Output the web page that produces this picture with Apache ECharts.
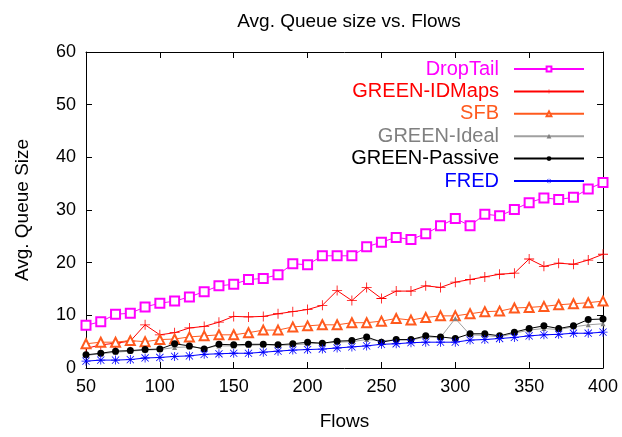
<!DOCTYPE html>
<html>
<head>
<meta charset="utf-8">
<script src="https://cdn.jsdelivr.net/npm/echarts@6/dist/echarts.min.js"></script>
<style>
  html, body { margin: 0; padding: 0; background: #fff; }
  #chart { width: 622px; height: 437px; }
</style>
</head>
<body>
<div id="chart"></div>
<script>
// Number of flows on the x axis
const flows = [50, 60, 70, 80, 90, 100, 110, 120, 130, 140, 150, 160, 170, 180, 190, 200,
  210, 220, 230, 240, 250, 260, 270, 280, 290, 300, 310, 320, 330, 340, 350, 360, 370, 380, 390, 400];

// Average queue size per scheme
const dropTail = [8.1, 8.8, 10.2, 10.4, 11.6, 12.3, 12.7, 13.5, 14.5, 15.6, 15.9, 16.8, 17.0, 17.7, 19.8, 19.6,
  21.3, 21.3, 21.3, 23.0, 23.9, 24.8, 24.4, 25.5, 27.0, 28.4, 27.0, 29.2, 28.9, 30.1, 31.4, 32.3, 32.0, 32.4, 34.0, 35.2];
const greenIDMaps = [3.7, 4.4, 4.7, 5.1, 8.2, 6.3, 6.7, 7.6, 7.9, 8.7, 9.8, 9.7, 9.8, 10.3, 10.7, 11.1,
  11.9, 14.7, 12.8, 15.3, 13.2, 14.6, 14.6, 15.6, 15.3, 16.3, 16.8, 17.3, 17.8, 18.0, 20.7, 19.3, 19.9, 19.7, 20.5, 21.6];
const sfb = [4.6, 4.9, 4.9, 5.2, 5.0, 5.4, 5.5, 5.9, 6.1, 6.3, 6.3, 6.7, 7.2, 7.2, 7.8, 8.0,
  8.2, 8.2, 8.6, 8.6, 8.9, 9.4, 9.1, 9.6, 9.9, 9.9, 10.3, 10.7, 10.8, 11.4, 11.5, 11.7, 12.0, 12.2, 12.4, 12.7];
const greenIdeal = [2.4, 2.7, 3.0, 3.2, 3.4, 3.5, 3.9, 4.0, 3.8, 4.2, 4.2, 4.3, 4.4, 4.3, 4.4, 4.6,
  4.7, 4.9, 5.0, 5.4, 5.2, 5.3, 5.3, 5.9, 5.8, 9.4, 6.3, 6.2, 5.9, 6.6, 7.2, 7.5, 7.3, 7.8, 8.2, 8.4];
const greenPassive = [2.5, 2.8, 3.2, 3.3, 3.5, 3.6, 4.6, 4.2, 3.6, 4.5, 4.4, 4.5, 4.5, 4.4, 4.6, 4.9,
  4.7, 5.1, 5.2, 5.9, 4.9, 5.4, 5.4, 6.1, 5.9, 5.6, 6.5, 6.5, 6.1, 6.8, 7.5, 8.0, 7.5, 8.0, 9.2, 9.3];
const fred = [1.3, 1.5, 1.5, 1.6, 1.9, 2.0, 2.2, 2.3, 2.6, 2.7, 2.8, 2.8, 3.0, 3.2, 3.4, 3.5,
  3.6, 3.8, 4.0, 4.2, 4.5, 4.6, 4.8, 4.9, 4.9, 4.9, 5.3, 5.4, 5.6, 5.8, 6.1, 6.3, 6.4, 6.6, 6.6, 6.8];

const seriesNames = ['DropTail', 'GREEN-IDMaps', 'SFB', 'GREEN-Ideal', 'GREEN-Passive', 'FRED'];
const xTicks = [50, 100, 150, 200, 250, 300, 350, 400];
const yTicks = [0, 10, 20, 30, 40, 50, 60];

const FONT = '"Liberation Sans", Arial, Helvetica, sans-serif';

// Marker shapes: thin plus and eight-armed asterisk
const plusPath = 'path://M4.6,0h0.8v4.6h4.6v0.8h-4.6v4.6h-0.8v-4.6h-4.6v-0.8h4.6z';
const starPath = 'path://M4.55,0h0.9v10h-0.9z M0,4.55h10v0.9h-10z ' +
  'M0.7,1.3L1.3,0.7L9.3,8.7L8.7,9.3z M8.7,0.7L9.3,1.3L1.3,9.3L0.7,8.7z';

const styles = [
  { color: '#ff00ff', line: '#ff00ff', symbol: 'emptyRect', size: 9, border: 1 },
  { color: '#ff0000', line: '#ff0000', symbol: plusPath, size: 10, border: 0 },
  { color: '#ff5a1e', line: '#ff5a1e', symbol: 'emptyTriangle', size: 9, border: 1 },
  { color: '#808080', line: '#a0a0a0', symbol: 'triangle', size: 5, border: 0 },
  { color: '#000000', line: '#000000', symbol: 'circle', size: 7, border: 0 },
  { color: '#0000ff', line: '#0000ff', symbol: starPath, size: 9, border: 0 }
];
const values = [dropTail, greenIDMaps, sfb, greenIdeal, greenPassive, fred];

const series = seriesNames.map((name, i) => ({
  name: name,
  type: 'line',
  data: flows.map((f, k) => [f, values[i][k]]),
  symbol: styles[i].symbol,
  symbolSize: styles[i].size,
  showAllSymbol: true,
  lineStyle: { color: styles[i].line, width: 1 },
  itemStyle: { color: styles[i].color, borderColor: styles[i].color, borderWidth: styles[i].border },
  emphasis: { disabled: true },
  animation: false,
  z: 2 + i
}));

const axisCommon = {
  axisLine: { show: true, onZero: false, lineStyle: { color: '#000', width: 1 } },
  axisTick: { show: true, inside: true, length: 6, lineStyle: { color: '#000' } },
  splitLine: { show: false }
};

const chart = echarts.init(document.getElementById('chart'), null, { renderer: 'canvas' });
chart.setOption({
  backgroundColor: '#fff',
  animation: false,
  title: {
    text: 'Avg. Queue size vs. Flows',
    left: 344, top: 7, textAlign: 'center',
    textStyle: { fontFamily: FONT, fontSize: 19, fontWeight: 'normal', color: '#000' }
  },
  grid: { left: 86, right: 19, top: 52, bottom: 69 },
  legend: {
    orient: 'vertical',
    align: 'right',
    right: 32, top: 53,
    itemWidth: 70, itemHeight: 6, itemGap: 0.4,
    textStyle: { fontFamily: FONT, fontSize: 20, lineHeight: 22, padding: [0, 10, 0, 0] },
    data: seriesNames.map((n, i) => ({ name: n, textStyle: { color: styles[i].color } })),
    selectedMode: false
  },
  xAxis: [
    Object.assign({}, axisCommon, {
      type: 'value', min: xTicks[0], max: xTicks[xTicks.length - 1], interval: 50,
      name: 'Flows', nameLocation: 'middle', nameGap: 44,
      nameTextStyle: { fontFamily: FONT, fontSize: 19, color: '#000' },
      axisLabel: { fontFamily: FONT, fontSize: 18, color: '#000', margin: 10 }
    }),
    Object.assign({}, axisCommon, {
      type: 'value', position: 'top', min: xTicks[0], max: xTicks[xTicks.length - 1], interval: 50,
      axisLabel: { show: false }
    })
  ],
  yAxis: [
    Object.assign({}, axisCommon, {
      type: 'value', min: yTicks[0], max: yTicks[yTicks.length - 1], interval: 10,
      name: 'Avg. Queue Size', nameLocation: 'middle', nameGap: 54,
      nameTextStyle: { fontFamily: FONT, fontSize: 19, color: '#000' },
      axisLabel: { fontFamily: FONT, fontSize: 18, color: '#000', margin: 10 }
    }),
    Object.assign({}, axisCommon, {
      type: 'value', position: 'right', min: yTicks[0], max: yTicks[yTicks.length - 1], interval: 10,
      axisLabel: { show: false }
    })
  ],
  series: series
});
</script>
</body>
</html>
